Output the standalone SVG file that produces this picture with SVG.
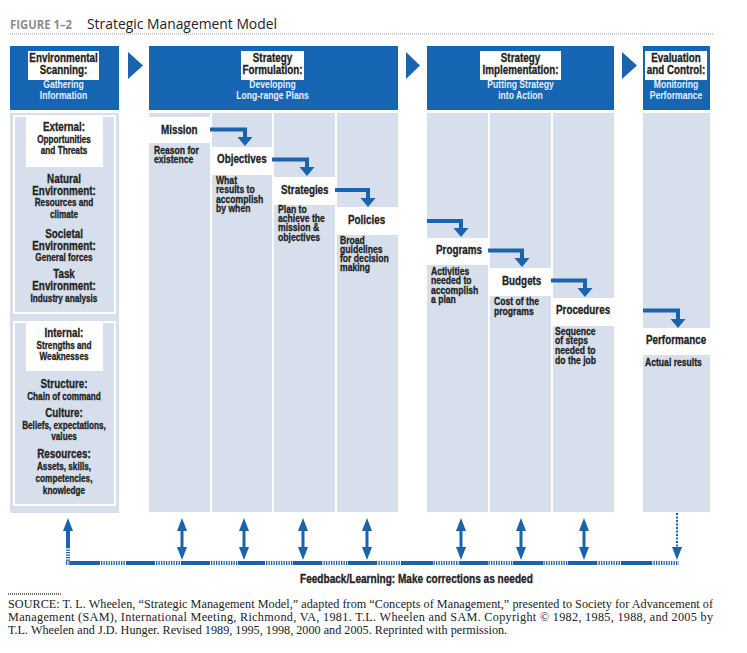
<svg xmlns="http://www.w3.org/2000/svg" width="747" height="653" viewBox="0 0 747 653">
<style>
.hdr{fill:#1766b3}
.col{fill:#d6dfeb}
.wb{fill:#ffffff}
.t{font-family:"Liberation Sans",Arial,sans-serif;font-weight:bold;fill:#222;stroke:#222;stroke-width:0.3px}
.h{font-size:12px;text-anchor:middle}
.sub{font-size:10.5px;text-anchor:middle;fill:#e4eefa;stroke:none}
.lab{font-size:12px}
.d{font-size:10.5px}
.l1{font-size:12px;text-anchor:middle}
.l2{font-size:10px;text-anchor:middle}
.blue{fill:#1a63ad}
.src{font-family:"Liberation Serif","Times New Roman",serif;font-size:12.2px;fill:#222}
</style>
<defs>
<path id="ah" d="M-7.5,0 H7.5 L0,9 Z" fill="#1a63ad"/>
<g id="dbl">
<rect x="-1.5" y="528" width="3" height="22" fill="#1a63ad"/>
<path d="M0,518 L5,531 H-5 Z" fill="#1a63ad"/>
<path d="M0,560 L5,547 H-5 Z" fill="#1a63ad"/>
</g>
</defs>
<rect width="747" height="653" fill="#ffffff"/>
<g id="title">
<text x="10" y="29" font-family="'Open Sans','Noto Sans',sans-serif" font-size="12.5px" font-weight="bold" fill="#8c8c8c" textLength="62" lengthAdjust="spacingAndGlyphs">FIGURE 1–2</text>
<text x="87" y="29" font-family="'Open Sans','Noto Sans',sans-serif" font-size="14px" fill="#222" textLength="190" lengthAdjust="spacingAndGlyphs">Strategic Management Model</text>
<line x1="10" y1="34" x2="713" y2="34" stroke="#999" stroke-width="1" stroke-dasharray="1 1"/>
</g>
<g id="env-scanning">
<rect class="hdr" x="10" y="46" width="109" height="64"/>
<rect class="wb" x="28" y="51" width="71" height="29"/>
<text class="t h" transform="matrix(.82 0 0 1 63.5 62)">Environmental</text>
<text class="t h" transform="matrix(.82 0 0 1 63.5 74)">Scanning:</text>
<text class="t sub" transform="matrix(.82 0 0 1 63.5 88)">Gathering</text>
<text class="t sub" transform="matrix(.82 0 0 1 63.5 99)">Information</text>
</g>
<g id="strategy-formulation">
<rect class="hdr" x="149" y="46" width="249" height="64"/>
<rect class="wb" x="241" y="51" width="63" height="29"/>
<text class="t h" transform="matrix(.82 0 0 1 272.5 62)">Strategy</text>
<text class="t h" transform="matrix(.82 0 0 1 272.5 74)">Formulation:</text>
<text class="t sub" transform="matrix(.82 0 0 1 272.5 88)">Developing</text>
<text class="t sub" transform="matrix(.82 0 0 1 272.5 99)">Long-range Plans</text>
</g>
<g id="strategy-implementation">
<rect class="hdr" x="427" y="46" width="187" height="64"/>
<rect class="wb" x="480" y="51" width="81" height="29"/>
<text class="t h" transform="matrix(.82 0 0 1 520.5 62)">Strategy</text>
<text class="t h" transform="matrix(.82 0 0 1 520.5 74)">Implementation:</text>
<text class="t sub" transform="matrix(.82 0 0 1 520.5 88)">Putting Strategy</text>
<text class="t sub" transform="matrix(.82 0 0 1 520.5 99)">into Action</text>
</g>
<g id="evaluation-control">
<rect class="hdr" x="643" y="46" width="67" height="64"/>
<rect class="wb" x="645" y="51" width="62" height="29"/>
<text class="t h" transform="matrix(.82 0 0 1 676 62)">Evaluation</text>
<text class="t h" transform="matrix(.82 0 0 1 676 74)">and Control:</text>
<text class="t sub" transform="matrix(.82 0 0 1 676 88)">Monitoring</text>
<text class="t sub" transform="matrix(.82 0 0 1 676 99)">Performance</text>
</g>
<g id="phase-arrows">
<path class="blue" d="M128,52 L143,65.5 L128,79 Z"/>
<path class="blue" d="M406,52 L420,65.5 L406,79 Z"/>
<path class="blue" d="M622,52 L637,65.5 L622,79 Z"/>
</g>
<g id="environment-column">
<rect class="col" x="10" y="113" width="109" height="400"/>
<rect x="14" y="116" width="101" height="197" fill="none" stroke="#fff" stroke-width="2"/>
<rect class="wb" x="26" y="117" width="77" height="50"/>
<text class="t l1" transform="matrix(.82 0 0 1 64 131)">External:</text>
<text class="t l2" transform="matrix(.82 0 0 1 64 143)">Opportunities</text>
<text class="t l2" transform="matrix(.82 0 0 1 64 154)">and Threats</text>
<text class="t l1" transform="matrix(.82 0 0 1 64 183)">Natural</text>
<text class="t l1" transform="matrix(.82 0 0 1 64 195)">Environment:</text>
<text class="t l2" transform="matrix(.82 0 0 1 64 206)">Resources and</text>
<text class="t l2" transform="matrix(.82 0 0 1 64 218)">climate</text>
<text class="t l1" transform="matrix(.82 0 0 1 64 238)">Societal</text>
<text class="t l1" transform="matrix(.82 0 0 1 64 250)">Environment:</text>
<text class="t l2" transform="matrix(.82 0 0 1 64 261)">General forces</text>
<text class="t l1" transform="matrix(.82 0 0 1 64 278)">Task</text>
<text class="t l1" transform="matrix(.82 0 0 1 64 290)">Environment:</text>
<text class="t l2" transform="matrix(.82 0 0 1 64 302)">Industry analysis</text>
<rect x="14" y="322" width="101" height="183" fill="none" stroke="#fff" stroke-width="2"/>
<rect class="wb" x="26" y="323" width="77" height="48"/>
<text class="t l1" transform="matrix(.82 0 0 1 64 337)">Internal:</text>
<text class="t l2" transform="matrix(.82 0 0 1 64 349)">Strengths and</text>
<text class="t l2" transform="matrix(.82 0 0 1 64 360)">Weaknesses</text>
<text class="t l1" transform="matrix(.82 0 0 1 64 388)">Structure:</text>
<text class="t l2" transform="matrix(.82 0 0 1 64 400)">Chain of command</text>
<text class="t l1" transform="matrix(.82 0 0 1 64 417)">Culture:</text>
<text class="t l2" transform="matrix(.82 0 0 1 64 429)">Beliefs, expectations,</text>
<text class="t l2" transform="matrix(.82 0 0 1 64 440)">values</text>
<text class="t l1" transform="matrix(.82 0 0 1 64 458)">Resources:</text>
<text class="t l2" transform="matrix(.82 0 0 1 64 470)">Assets, skills,</text>
<text class="t l2" transform="matrix(.82 0 0 1 64 482)">competencies,</text>
<text class="t l2" transform="matrix(.82 0 0 1 64 494)">knowledge</text>
</g>
<g id="mission">
<rect class="col" x="149" y="113" width="61" height="399"/>
<rect class="wb" x="149" y="117" width="61" height="26"/>
<text class="t lab" transform="matrix(.82 0 0 1 161 134)">Mission</text>
<text class="t d" transform="matrix(.82 0 0 1 154 154)">Reason for</text>
<text class="t d" transform="matrix(.82 0 0 1 154 163)">existence</text>
</g>
<g id="objectives">
<rect class="col" x="212" y="113" width="60" height="399"/>
<rect class="wb" x="212" y="147" width="60" height="28"/>
<text class="t lab" transform="matrix(.82 0 0 1 217 163)">Objectives</text>
<text class="t d" transform="matrix(.82 0 0 1 216 184)">What</text>
<text class="t d" transform="matrix(.82 0 0 1 216 193)">results to</text>
<text class="t d" transform="matrix(.82 0 0 1 216 203)">accomplish</text>
<text class="t d" transform="matrix(.82 0 0 1 216 212)">by when</text>
</g>
<g id="strategies">
<rect class="col" x="274" y="113" width="61" height="399"/>
<rect class="wb" x="274" y="177" width="61" height="28"/>
<text class="t lab" transform="matrix(.82 0 0 1 281 194)">Strategies</text>
<text class="t d" transform="matrix(.82 0 0 1 278 213)">Plan to</text>
<text class="t d" transform="matrix(.82 0 0 1 278 222)">achieve the</text>
<text class="t d" transform="matrix(.82 0 0 1 278 231)">mission &amp;</text>
<text class="t d" transform="matrix(.82 0 0 1 278 241)">objectives</text>
</g>
<g id="policies">
<rect class="col" x="337" y="113" width="61" height="399"/>
<rect class="wb" x="337" y="207" width="61" height="28"/>
<text class="t lab" transform="matrix(.82 0 0 1 348 224)">Policies</text>
<text class="t d" transform="matrix(.82 0 0 1 340 244)">Broad</text>
<text class="t d" transform="matrix(.82 0 0 1 340 253)">guidelines</text>
<text class="t d" transform="matrix(.82 0 0 1 340 262)">for decision</text>
<text class="t d" transform="matrix(.82 0 0 1 340 271)">making</text>
</g>
<g id="programs">
<rect class="col" x="427" y="113" width="61" height="399"/>
<rect class="wb" x="427" y="238" width="61" height="27"/>
<text class="t lab" transform="matrix(.82 0 0 1 436 254)">Programs</text>
<text class="t d" transform="matrix(.82 0 0 1 431 275)">Activities</text>
<text class="t d" transform="matrix(.82 0 0 1 431 284)">needed to</text>
<text class="t d" transform="matrix(.82 0 0 1 431 294)">accomplish</text>
<text class="t d" transform="matrix(.82 0 0 1 431 303)">a plan</text>
</g>
<g id="budgets">
<rect class="col" x="490" y="113" width="61" height="399"/>
<rect class="wb" x="490" y="268" width="61" height="28"/>
<text class="t lab" transform="matrix(.82 0 0 1 502 285)">Budgets</text>
<text class="t d" transform="matrix(.82 0 0 1 494 305)">Cost of the</text>
<text class="t d" transform="matrix(.82 0 0 1 494 315)">programs</text>
</g>
<g id="procedures">
<rect class="col" x="553" y="113" width="61" height="399"/>
<rect class="wb" x="553" y="298" width="63" height="28"/>
<text class="t lab" transform="matrix(.82 0 0 1 556 314)">Procedures</text>
<text class="t d" transform="matrix(.82 0 0 1 555 335)">Sequence</text>
<text class="t d" transform="matrix(.82 0 0 1 555 344)">of steps</text>
<text class="t d" transform="matrix(.82 0 0 1 555 354)">needed to</text>
<text class="t d" transform="matrix(.82 0 0 1 555 364)">do the job</text>
</g>
<g id="performance">
<rect class="col" x="643" y="113" width="67" height="399"/>
<rect class="wb" x="643" y="328" width="69" height="27"/>
<text class="t lab" transform="matrix(.82 0 0 1 646 344)">Performance</text>
<text class="t d" transform="matrix(.82 0 0 1 645 366)">Actual results</text>
</g>
<g id="connectors" fill="none" stroke="#1a63ad">
<g stroke-width="4">
<path d="M210,129.5 H245 V138"/>
<path d="M272,159.5 H307 V168"/>
<path d="M335,190 H368 V199"/>
<path d="M427,221 H461 V229"/>
<path d="M488,250.5 H522 V259"/>
<path d="M551,280.5 H585 V289"/>
<path d="M643,310.5 H678 V320"/>
</g>
<g stroke="none">
<use href="#ah" x="245" y="137"/>
<use href="#ah" x="307" y="167"/>
<use href="#ah" x="368" y="198"/>
<use href="#ah" x="461" y="228"/>
<use href="#ah" x="522" y="258"/>
<use href="#ah" x="585" y="288"/>
<use href="#ah" x="678" y="319"/>
<use href="#dbl" x="182"/>
<use href="#dbl" x="244"/>
<use href="#dbl" x="303"/>
<use href="#dbl" x="367"/>
<use href="#dbl" x="461"/>
<use href="#dbl" x="521"/>
<use href="#dbl" x="584"/>
<path d="M68,518 L73,531 H63 Z" fill="#1a63ad"/>
<rect x="66" y="529" width="4" height="18" fill="#1a63ad"/>
<path d="M677,560 L682,547 H672 Z" fill="#1a63ad"/>
</g>
<line x1="68" y1="547" x2="68" y2="561" stroke-width="4" stroke-dasharray="1.3 1.2"/>
<line x1="677" y1="513" x2="677" y2="548" stroke-width="2" stroke-dasharray="2 1.5"/>
<line x1="66" y1="563" x2="679" y2="563" stroke-width="4" stroke-dasharray="1.3 1.2"/>
<path stroke-width="4" d="M70,563 H100 M127,563 H155 M182,563 H210 M238,563 H265 M293,563 H322 M348,563 H377 M402,563 H433 M460,563 H488 M513,563 H543 M568,563 H597 M622,563 H652"/>
</g>
<g id="feedback-label">
<text class="t" transform="matrix(.82 0 0 1 300 583)" font-size="12px" textLength="284" lengthAdjust="spacingAndGlyphs">Feedback/Learning: Make corrections as needed</text>
</g>
<g id="source">
<line x1="8" y1="594" x2="62" y2="594" stroke="#444" stroke-width="1.5" stroke-dasharray="1 1"/>
<text class="src" x="8" y="608" textLength="705" lengthAdjust="spacing">SOURCE: T. L. Wheelen, “Strategic Management Model,” adapted from “Concepts of Management,” presented to Society for Advancement of</text>
<text class="src" x="8" y="621" textLength="705" lengthAdjust="spacing">Management (SAM), International Meeting, Richmond, VA, 1981. T.L. Wheelen and SAM. Copyright © 1982, 1985, 1988, and 2005 by</text>
<text class="src" x="8" y="634">T.L. Wheelen and J.D. Hunger. Revised 1989, 1995, 1998, 2000 and 2005. Reprinted with permission.</text>
</g>
</svg>
